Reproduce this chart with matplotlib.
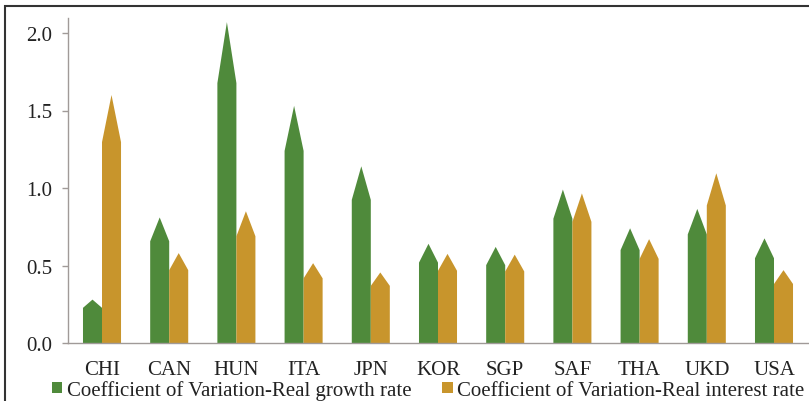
import matplotlib
matplotlib.use("Agg")
import matplotlib.pyplot as plt
from matplotlib.patches import Polygon, Patch, Rectangle

plt.rcParams['font.family'] = ['Liberation Serif', 'DejaVu Serif']

countries = ["CHI", "CAN", "HUN", "ITA", "JPN", "KOR", "SGP", "SAF", "THA", "UKD", "USA"]
growth_cv = [0.28, 0.81, 2.07, 1.53, 1.14, 0.64, 0.62, 0.99, 0.74, 0.865, 0.675]
interest_cv = [1.60, 0.58, 0.85, 0.515, 0.455, 0.575, 0.57, 0.965, 0.67, 1.095, 0.47]
series_names = ["Coefficient of Variation-Real growth rate",
                "Coefficient of Variation-Real interest rate"]
yticks = [0.0, 0.5, 1.0, 1.5, 2.0]

green = "#4f8a3b"
gold = "#c8952c"
text_color = "#222222"
spine_color = "#a09a98"

W, H = 809, 402
fig = plt.figure(figsize=(W / 100, H / 100), dpi=100)
fig.patch.set_facecolor("white")

ax_left, ax_right = 68, 808
ax_bottom, ax_top = 344, 18.5
ax = fig.add_axes([ax_left / W, (H - ax_bottom) / H,
                   (ax_right - ax_left) / W, (ax_bottom - ax_top) / H])

bar_w = 0.283
shoulder = 0.81


def pentagon(x0, x1, v):
    xc = (x0 + x1) / 2
    return [(x0, 0), (x0, v * shoulder), (xc, v), (x1, v * shoulder), (x1, 0)]


for i, (g, r) in enumerate(zip(growth_cv, interest_cv)):
    ax.add_patch(Polygon(pentagon(i - bar_w, i, g), closed=True,
                         facecolor=green, edgecolor="none"))
    ax.add_patch(Polygon(pentagon(i, i + bar_w, r), closed=True,
                         facecolor=gold, edgecolor="none"))

ax.set_xlim(-0.506, len(countries) - 1 + 0.506)
ax.set_ylim(0, 2.1)
ax.set_xticks(range(len(countries)))
ax.set_xticklabels(countries)
ax.set_yticks(yticks)
ax.set_yticklabels([f"{t:.1f}" for t in yticks])

for s in ["top", "right"]:
    ax.spines[s].set_visible(False)
for s in ["left", "bottom"]:
    ax.spines[s].set_color(spine_color)
    ax.spines[s].set_linewidth(1.0)

ax.tick_params(axis="x", length=0, pad=12.5, labelsize=15, colors=text_color)
ax.tick_params(axis="y", length=4, width=1.0, color=spine_color, pad=7.5,
               labelsize=15, labelcolor=text_color)
ax.set_facecolor("white")

handles = [Patch(facecolor=green, edgecolor="none", label=series_names[0]),
           Patch(facecolor=gold, edgecolor="none", label=series_names[1])]
fig.legend(handles=handles, loc="center left",
           bbox_to_anchor=(52 / W, (H - 391) / H),
           ncol=2, frameon=False, fontsize=15, handlelength=0.5,
           handleheight=0.4, handletextpad=0.2, columnspacing=1.5,
           labelcolor=text_color, borderpad=0, borderaxespad=0)

# outer frame (top and left visible)
fig.patches.append(Rectangle((5 / W, -0.2), 1.5, (H - 7) / H + 0.2,
                             transform=fig.transFigure, fill=False,
                             edgecolor="#333333", linewidth=1.5))

fig.savefig("out.png", dpi=100)
